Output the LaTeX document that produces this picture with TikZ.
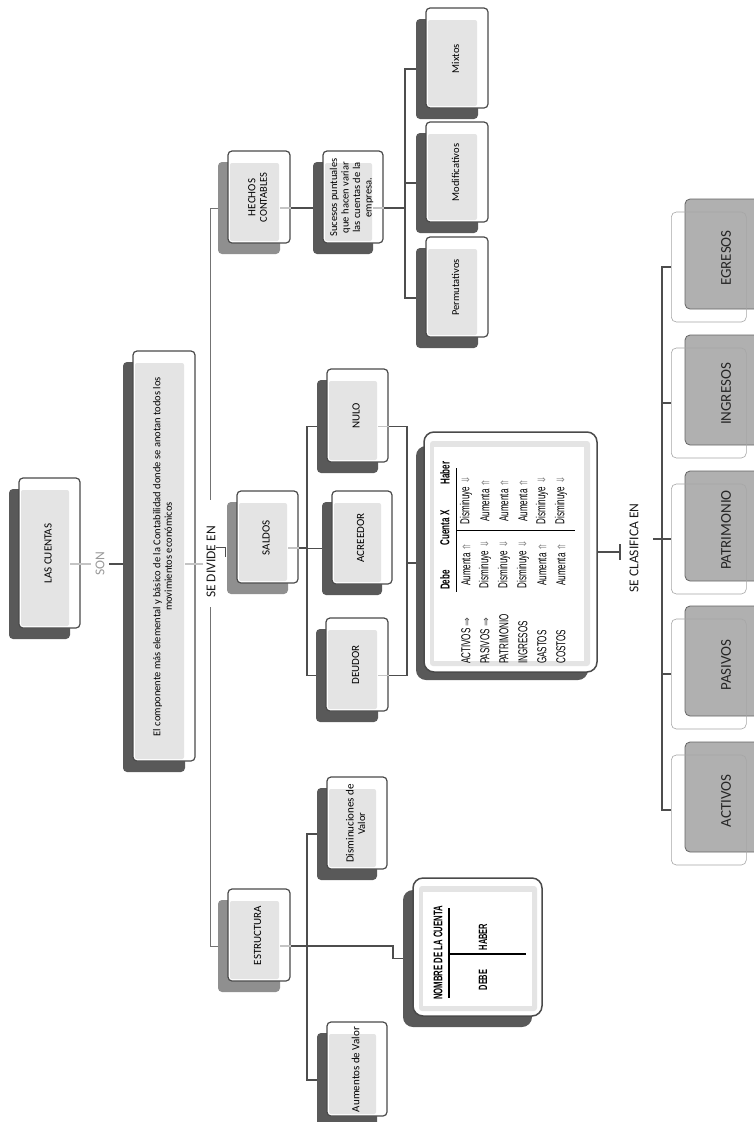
\documentclass[tikz,border=0pt]{standalone}
\usepackage{fontspec}
\setmainfont{Carlito}
\newfontfamily\narrowf{Liberation Sans}[FakeStretch=0.62]
\newfontfamily\symf{DejaVu Sans}
\usetikzlibrary{fit}
\definecolor{shdark}{HTML}{595959}
\definecolor{shlight}{HTML}{8F8F8F}
\definecolor{innerg}{HTML}{E4E4E4}
\definecolor{edge}{HTML}{4A4A4A}
\definecolor{lnk}{HTML}{4D4D4D}
\definecolor{lnkl}{HTML}{C4C4C4}
\definecolor{cardg}{HTML}{B0B0B0}
\definecolor{arrg}{HTML}{8C8C8C}
\tikzset{
  outl/.style={draw=edge, line width=1.2pt, fill=white, rounded corners=4pt},
  innr/.style={fill=innerg, rounded corners=2pt},
  conn/.style={draw=lnk, line width=1.3pt},
  topconn/.style={draw=black!55, line width=1pt},
  lconn/.style={draw=lnkl, line width=1.3pt},
  lbl/.style={rotate=90, align=center, inner sep=1pt, font=\fontsize{10.5}{11.5}\selectfont},
  tabtxt/.style={rotate=90, inner sep=0pt, font=\narrowf\fontsize{13}{13}\selectfont},
  tabhead/.style={rotate=90, inner sep=0pt, font=\narrowf\bfseries\fontsize{13}{13}\selectfont},
  bigtxt/.style={rotate=90, inner sep=1pt, font=\fontsize{13.5}{13.5}\selectfont},
}
% card: name, shadow x1, y1, x2, y2, shadow colour, text
\newcommand\card[7]{%
  \coordinate (#1-a) at (#2,#3);
  \coordinate (#1-b) at (#4,#5);
  \node[fit=(#1-a)(#1-b), inner sep=0pt, fill=#6, rounded corners=4pt] (#1) {};
  \draw[outl] (#2+10,#3-11) rectangle (#4+10,#5-11);
  \fill[innr] (#2+12,#3+1) rectangle (#4-1,#5-13);
  \node[lbl] (#1-t) at ({(#2+#4)/2+8.5},{(#3+#5)/2-10.5}) {#7};
}
% bottom card: name, outline x1, centre y, text
\newcommand\bcard[4]{%
  \fill[cardg, draw=edge!85, line width=0.8pt, rounded corners=5pt] (#2+14,#3-68) rectangle (#2+89,#3+42);
  \node[draw=black!35, line width=0.6pt, rounded corners=5pt, minimum width=75pt, minimum height=110pt, inner sep=0pt, anchor=west] (#1) at (#2,#3) {};
  \node[rotate=90, inner sep=1pt, font=\fontsize{15}{15}\selectfont, text=black!85] (#1-t) at (#2+55,#3-9) {#4};
}
\newcommand\up{{\symf\fontsize{10.5}{10.5}\selectfont\color{arrg}⇑}}
\newcommand\dn{{\symf\fontsize{10.5}{10.5}\selectfont\color{arrg}⇓}}
\newcommand\rt{{\symf\fontsize{10.5}{10.5}\selectfont\color{black!70}⇒}}
\begin{document}
\begin{tikzpicture}[x=1pt,y=-1pt]
\useasboundingbox (0,0) rectangle (754,1122);
\fill[white] (0,0) rectangle (754,1122);

% ---- cards
\card{lc}{9}{489}{70}{639}{shdark}{\fontsize{11}{12}\selectfont LAS CUENTAS}
\card{main}{123}{362}{185}{772}{shdark}{El componente más elemental y básico de la Contabilidad donde se anotan todos los\\movimientos económicos}
\card{hechos}{218}{162}{280}{254}{shlight}{\fontsize{11}{12}\selectfont HECHOS\\CONTABLES}
\card{sucesos}{313}{162}{373}{254}{shdark}{Sucesos puntuales\\que hacen variar\\las cuentas de la\\empresa.}
\card{mixtos}{416}{19}{478}{119}{shdark}{Mixtos}
\card{modif}{416}{133}{478}{233}{shdark}{Modificativos}
\card{permut}{416}{248}{478}{348}{shdark}{Permutativos}
\card{saldos}{227}{502}{288}{594}{shlight}{\fontsize{11}{12}\selectfont SALDOS}
\card{nulo}{317}{380}{378}{473}{shdark}{\fontsize{11}{12}\selectfont NULO}
\card{acreedor}{322}{502}{382}{595}{shdark}{\fontsize{11}{12}\selectfont ACREEDOR}
\card{deudor}{316}{629}{378}{722}{shdark}{\fontsize{11}{12}\selectfont DEUDOR}
\card{estructura}{218}{900}{280}{992}{shlight}{\fontsize{11}{12}\selectfont ESTRUCTURA}
\card{dism}{317}{788}{377}{880}{shdark}{\fontsize{11}{12}\selectfont Disminuciones de\\Valor}
\card{aum}{317}{1033}{377}{1127}{shdark}{\fontsize{11}{12}\selectfont Aumentos de Valor}

% ---- table box
\coordinate (tb-a) at (416,446);
\coordinate (tb-b) at (588,680);
\node[fit=(tb-a)(tb-b), inner sep=0pt, fill=shdark, rounded corners=10pt] (table) {};
\node[draw=edge, line width=1.5pt, fill=white, rounded corners=10pt, minimum width=173pt, minimum height=240pt, inner sep=0pt] (tableo) at (510.5,552) {};
\fill[innerg, rounded corners=3pt] (430,441) rectangle (590,666);
\fill[white] (434,447) rectangle (584,661);
\node[tabhead] (hdebe) at (445,580) {Debe};
\node[tabhead] (hcta) at (445,528) {Cuenta X};
\node[tabhead] (hhaber) at (445,473) {Haber};
\draw[line width=0.8pt] (456,468) -- (456,592);
\draw[line width=0.8pt] (456,530) -- (575,530);
\node[tabtxt, anchor=west] (r1) at (466,664) {ACTIVOS \rt};
\node[tabtxt, anchor=west] (r2) at (485,664) {PASIVOS \rt};
\node[tabtxt, anchor=west] (r3) at (504,664) {PATRIMONIO};
\node[tabtxt, anchor=west] (r4) at (523,664) {INGRESOS};
\node[tabtxt, anchor=west] (r5) at (542,664) {GASTOS};
\node[tabtxt, anchor=west] (r6) at (561,664) {COSTOS};
\node[tabtxt] (d1) at (466,564) {Aumenta \up};
\node[tabtxt] (d2) at (485,564) {Disminuye \dn};
\node[tabtxt] (d3) at (504,564) {Disminuye \dn};
\node[tabtxt] (d4) at (523,564) {Disminuye \dn};
\node[tabtxt] (d5) at (542,564) {Aumenta \up};
\node[tabtxt] (d6) at (561,564) {Aumenta \up};
\node[tabtxt] (h1) at (466,500) {Disminuye \dn};
\node[tabtxt] (h2) at (485,500) {Aumenta \up};
\node[tabtxt] (h3) at (504,500) {Aumenta \up};
\node[tabtxt] (h4) at (523,500) {Aumenta \up};
\node[tabtxt] (h5) at (542,500) {Disminuye \dn};
\node[tabtxt] (h6) at (561,500) {Disminuye \dn};

% ---- T account box
\coordinate (tx-a) at (403,890);
\coordinate (tx-b) at (532,1027);
\node[fit=(tx-a)(tx-b), inner sep=0pt, fill=shdark, rounded corners=10pt] (tbox) {};
\draw[draw=edge, line width=1.5pt, fill=white, rounded corners=10pt] (413,878) rectangle (542,1016);
\fill[innerg, rounded corners=3pt] (419,886) rectangle (537,1011);
\fill[white] (423,892) rectangle (532,1006);
\node[tabhead, font=\narrowf\bfseries\fontsize{12.5}{12.5}\selectfont] (tname) at (438,953) {NOMBRE DE LA CUENTA};
\draw[line width=2.6pt] (449,908) -- (449,998);
\draw[line width=2.2pt] (449,954) -- (526,954);
\node[tabhead, font=\narrowf\bfseries\fontsize{12}{12}\selectfont] (thaber) at (483,937) {HABER};
\node[tabhead, font=\narrowf\bfseries\fontsize{12}{12}\selectfont] (tdebe) at (483,980) {DEBE};

% ---- bottom cards
\bcard{egresos}{671}{267}{EGRESOS}
\bcard{ingresos}{671}{403}{INGRESOS}
\bcard{patrimonio}{671}{539}{PATRIMONIO}
\bcard{pasivos}{671}{674}{PASIVOS}
\bcard{activos}{671}{810}{ACTIVOS}

% ---- labels
\node[bigtxt, text=black!40] (son) at (100,564) {SON};
\node[bigtxt, text=black!90] (sde) at (211,562) {SE DIVIDE EN};
\node[bigtxt, text=black!90] (sce) at (634,548) {SE CLASIFICA EN};

% ---- connectors
\coordinate (dtop) at (210,500);
\coordinate (dbot) at (210,607);
\draw[topconn] (hechos.west) -| (dtop);
\draw[topconn] (estructura.west) -| (dbot);
\draw[lconn] (lc.east) -- ++(21,0);
\coordinate (sonr) at (109,564);
\draw[conn] (sonr) -- (sonr -| main.west);
\coordinate (mainr) at (185,564);
\draw[lconn] (mainr) -- ++(18,0);
\coordinate (sdk) at (216,547);
\draw[conn, line width=1pt] (sdk) -- ++(9,0) -- ++(0,10);
% saldos
\coordinate (lb) at (307,0);
\draw[conn] (saldos.east) -- (saldos.east -| lb);
\draw[conn] (nulo.west) -| (deudor.west -| lb) -- (deudor.west);
\draw[conn] (acreedor.west -| lb) -- (acreedor.west);
\draw[lconn] (saldos.east) -- ++(11,0);
\coordinate (rb) at (407,0);
\draw[conn] (nulo.east) -| (deudor.east -| rb) -- (deudor.east);
\draw[conn] (rb |- table.west) -- (table.west);
\draw[lconn] (nulo.east) -- ++(11,0);
\draw[lconn] (deudor.east) -- ++(11,0);
% hechos
\draw[conn] (hechos.east) -- (sucesos.west);
\draw[lconn] (hechos.east) -- ++(11,0);
\coordinate (hb) at (405,0);
\draw[conn] (sucesos.east) -- (sucesos.east -| hb);
\draw[conn] (mixtos.west) -| (permut.west -| hb) -- (permut.west);
\draw[conn] (modif.west -| hb) -- (modif.west);
\draw[lconn] (sucesos.east) -- ++(11,0);
% estructura
\coordinate (eb) at (307,0);
\coordinate (tstep) at (393,0);
\draw[conn] (estructura.east) -- (estructura.east -| tstep) -- (tstep |- tbox.west) -- (tbox.west);
\draw[conn] (dism.west) -| (aum.west -| eb) -- (aum.west);
\draw[lconn] (estructura.east) -- ++(11,0);
% clasifica
\coordinate (tk) at (620,552);
\draw[conn] (tableo.east) -- (tk);
\draw[conn] (620,544) -- (620,560);
\coordinate (bb) at (662,0);
\coordinate (scer) at (653,539);
\draw[conn] (egresos.west) -| (activos.west -| bb) -- (activos.west);
\draw[conn] (ingresos.west -| bb) -- (ingresos.west);
\draw[conn] (pasivos.west -| bb) -- (pasivos.west);
\draw[conn] (scer) -- (patrimonio.west);
\end{tikzpicture}
\end{document}
